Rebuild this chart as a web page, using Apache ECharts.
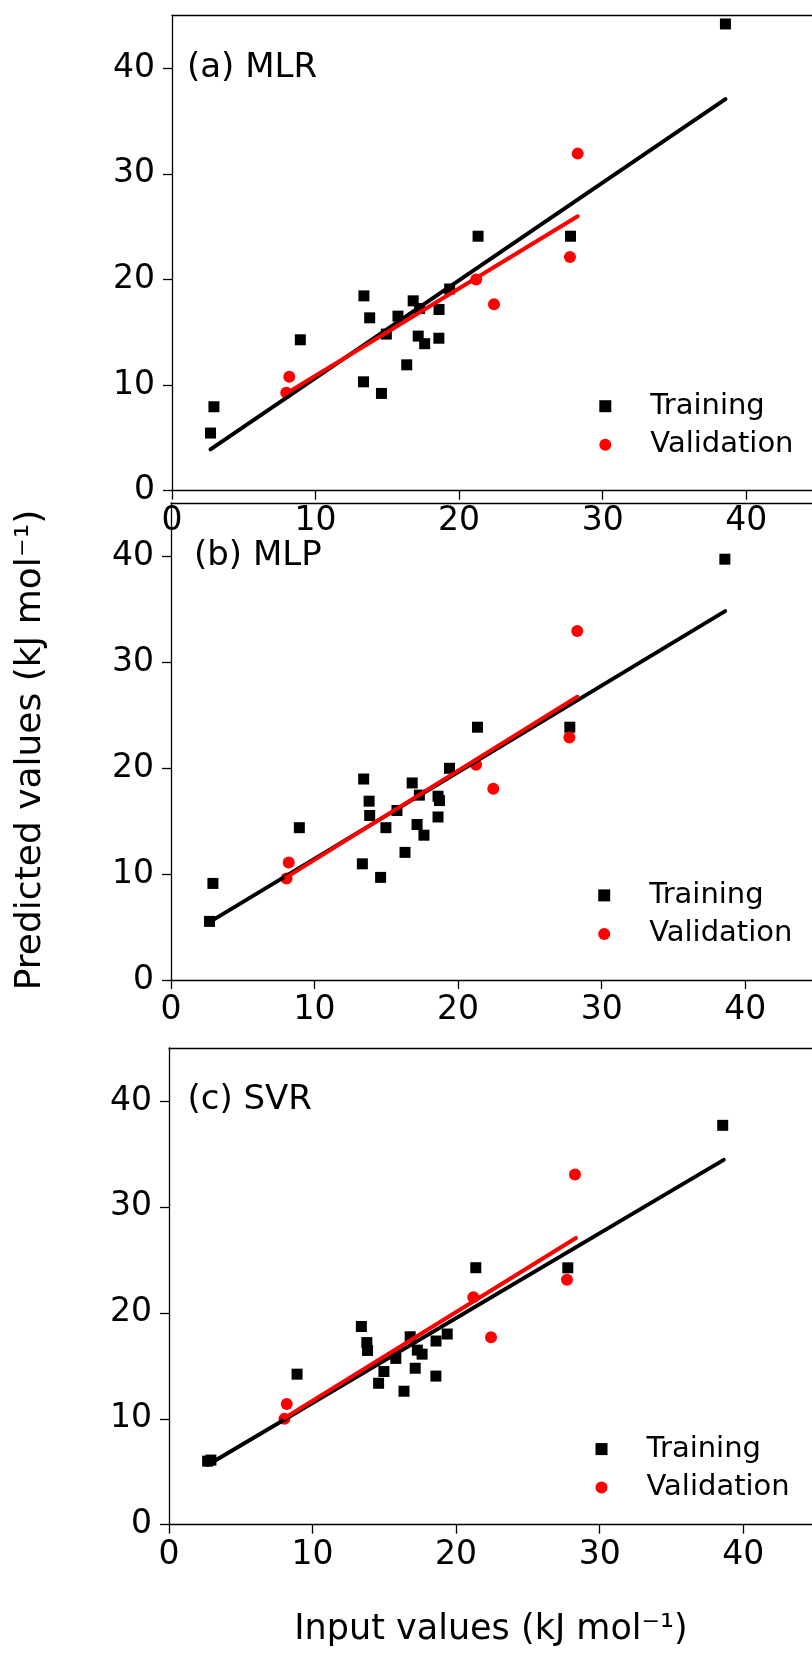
<!DOCTYPE html>
<html>
<head>
<meta charset="utf-8">
<script src="https://cdn.jsdelivr.net/npm/echarts@6/dist/echarts.min.js"></script>
<style>
html,body{margin:0;padding:0;background:#fff;overflow:hidden;width:812px;height:1654px;}
#chart{width:960px;height:1654px;}
</style>
</head>
<body>
<div id="chart"></div>
<script>
// ---- data ----
const xTicks = [0, 10, 20, 30, 40];
const yTicks = [0, 10, 20, 30, 40];
const panelLabels = ['(a) MLR', '(b) MLP', '(c) SVR'];
const legendNames = ['Training', 'Validation'];

const trainA = [[38.55,44.2],[21.32,24.1],[27.76,24.1],[13.37,18.45],[13.77,16.37],[16.8,17.98],[17.25,17.25],[19.34,19.1],[18.6,17.16],[15.74,16.53],[14.93,14.83],[17.15,14.64],[17.6,13.92],[18.59,14.44],[8.94,14.29],[16.35,11.92],[13.34,10.31],[14.59,9.21],[2.92,7.95],[2.68,5.46]];
const validA = [[28.26,31.92],[27.72,22.14],[21.19,20.0],[22.43,17.66],[8.17,10.79],[7.96,9.27]];
const fitTrainA = [[2.68,3.92],[38.55,37.09]];
const fitValidA = [[7.96,9.21],[28.26,25.99]];

const trainB = [[38.58,39.7],[21.35,23.85],[27.78,23.85],[13.42,18.96],[13.8,16.87],[13.84,15.52],[16.8,18.59],[17.3,17.44],[19.4,19.97],[18.6,17.34],[18.7,16.93],[15.74,15.99],[14.97,14.37],[17.14,14.67],[17.62,13.66],[18.6,15.38],[8.94,14.37],[16.3,12.04],[13.33,10.96],[14.6,9.68],[2.92,9.11],[2.68,5.53]];
const validB = [[28.3,32.93],[27.75,22.87],[21.25,20.3],[22.45,18.05],[8.2,11.09],[8.05,9.57]];
const fitTrainB = [[2.68,5.46],[38.6,34.8]];
const fitValidB = [[8.03,9.68],[28.3,26.72]];

const trainC = [[38.57,37.7],[21.37,24.26],[27.78,24.25],[13.4,18.71],[13.78,17.19],[13.83,16.45],[16.8,17.74],[17.3,16.48],[17.63,16.1],[19.38,18.0],[18.6,17.34],[15.8,15.7],[14.97,14.46],[17.15,14.77],[18.59,14.03],[14.6,13.35],[16.37,12.6],[8.92,14.21],[2.92,6.1],[2.69,6.0]];
const validC = [[28.28,33.05],[27.72,23.12],[21.2,21.47],[22.43,17.7],[8.2,11.39],[8.04,9.99]];
const fitTrainC = [[2.69,5.64],[38.64,34.44]];
const fitValidC = [[8.06,10.07],[28.35,27.07]];

// ---- layout / style ----
const FONT = 'DejaVu Sans';
const X_MAX = 50;            // frame runs past the right edge of the picture
const PX_PER_UNIT = 14.356;
const grids = [
  {left: 172, top: 15.5, width: PX_PER_UNIT * X_MAX, height: 475.2},
  {left: 171, top: 503, width: PX_PER_UNIT * X_MAX, height: 477},
  {left: 169, top: 1048, width: PX_PER_UNIT * X_MAX, height: 476.7}
];
const legendPos = [
  {left: 599.3, top: 391.7},
  {left: 598.2, top: 880.9},
  {left: 595.5, top: 1434.6}
];
const labelPos = [
  {left: 187, top: 51.3},
  {left: 194, top: 539.5},
  {left: 187.5, top: 1083.2}
];
const panels = [
  [trainA, validA, fitTrainA, fitValidA],
  [trainB, validB, fitTrainB, fitValidB],
  [trainC, validC, fitTrainC, fitValidC]
];

const axisLineStyle = {color: '#000', width: 1.3};
const xAxes = [], yAxes = [], series = [], legends = [], titles = [];
panels.forEach((p, i) => {
  xAxes.push({
    gridIndex: i, type: 'value', position: 'bottom', min: 0, max: X_MAX, interval: 10,
    axisLine: {show: true, onZero: false, lineStyle: axisLineStyle},
    axisTick: {show: true, length: 9, lineStyle: axisLineStyle, customValues: xTicks},
    axisLabel: {customValues: xTicks, fontSize: 33, fontFamily: FONT, color: '#000', margin: 14},
    splitLine: {show: false}
  });
  yAxes.push({
    gridIndex: i, type: 'value', min: 0, max: 45, interval: 10,
    axisLine: {show: true, onZero: false, lineStyle: axisLineStyle},
    axisTick: {show: true, length: 9, lineStyle: axisLineStyle, customValues: yTicks},
    axisLabel: {customValues: yTicks, fontSize: 33, fontFamily: FONT, color: '#000', margin: 17},
    splitLine: {show: false}
  });
  series.push({
    name: legendNames[0], type: 'scatter', xAxisIndex: i, yAxisIndex: i,
    symbol: 'rect', symbolSize: 11, itemStyle: {color: '#000', opacity: 1}, data: p[0], z: 2
  });
  series.push({
    name: legendNames[1], type: 'scatter', xAxisIndex: i, yAxisIndex: i,
    symbol: 'circle', symbolSize: 12, itemStyle: {color: '#ff0000', opacity: 1}, data: p[1], z: 2
  });
  series.push({
    name: 'fitTrain' + i, type: 'line', xAxisIndex: i, yAxisIndex: i,
    showSymbol: false, symbol: 'none', data: p[2], z: 3,
    lineStyle: {color: '#000', width: 4, cap: 'round'}
  });
  series.push({
    name: 'fitValid' + i, type: 'line', xAxisIndex: i, yAxisIndex: i,
    showSymbol: false, symbol: 'none', data: p[3], z: 4,
    lineStyle: {color: '#ff0000', width: 4, cap: 'round'}
  });
  legends.push({
    data: legendNames, orient: 'vertical', left: legendPos[i].left, top: legendPos[i].top,
    padding: 0, itemWidth: 12, itemHeight: 12, itemGap: 9.5, selectedMode: false,
    textStyle: {fontSize: 29, lineHeight: 29, fontFamily: FONT, color: '#000', padding: [0, 0, 0, 34]}
  });
  titles.push({
    text: panelLabels[i], left: labelPos[i].left, top: labelPos[i].top, padding: 0,
    textStyle: {fontSize: 34, fontWeight: 'normal', fontFamily: FONT, color: '#000'}
  });
});
// top frame line of each panel (a bare axis line at the top edge)
panels.forEach((p, i) => {
  xAxes.push({
    gridIndex: i, type: 'value', position: 'top', min: 0, max: X_MAX,
    axisLine: {show: true, onZero: false, lineStyle: axisLineStyle},
    axisTick: {show: false}, axisLabel: {show: false}, splitLine: {show: false}
  });
});

const chart = echarts.init(document.getElementById('chart'), null, {renderer: 'canvas'});
chart.setOption({
  animation: false,
  backgroundColor: '#fff',
  title: titles,
  legend: legends,
  grid: grids.map(g => Object.assign({show: false, outerBoundsMode: 'none', containLabel: false}, g)),
  xAxis: xAxes,
  yAxis: yAxes,
  series: series,
  graphic: [
    {type: 'text', x: 31, y: 750, rotation: Math.PI / 2,
     style: {text: 'Predicted values (kJ mol⁻¹)', font: '36px "DejaVu Sans"', fill: '#000', textAlign: 'center', textVerticalAlign: 'middle'}},
    {type: 'text', x: 491, y: 1630,
     style: {text: 'Input values (kJ mol⁻¹)', font: '35px "DejaVu Sans"', fill: '#000', textAlign: 'center', textVerticalAlign: 'middle'}}
  ]
});
</script>
</body>
</html>
